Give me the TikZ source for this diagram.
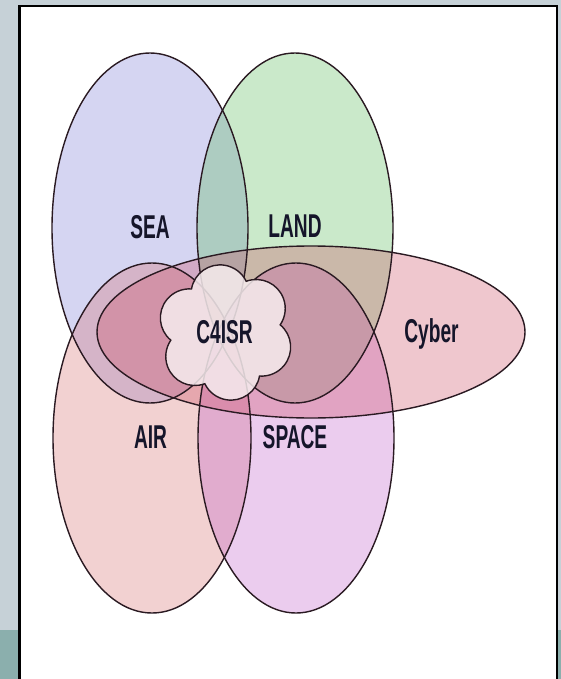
\documentclass[tikz,border=0pt]{standalone}
\usepackage{fontspec}
\newfontfamily\lblfont[FakeStretch=0.58]{Liberation Sans}
\usetikzlibrary{calc}
\definecolor{slatebg}{HTML}{C6D1D7}
\definecolor{tealbg}{HTML}{8BAFAD}
\definecolor{seac}{HTML}{7676D4}
\definecolor{landc}{HTML}{52B952}
\definecolor{airc}{HTML}{D76969}
\definecolor{spacec}{HTML}{BD58C9}
\definecolor{cyberc}{HTML}{CD475F}
\definecolor{cloudc}{HTML}{F6ECEE}
\definecolor{outc}{HTML}{2A1A22}
\definecolor{txtc}{HTML}{15152A}
\tikzset{
  outl/.style={draw=outc, line width=1.4pt},
  tint/.style={fill opacity=0.3},
  cloudsty/.style={fill=cloudc, fill opacity=0.85, draw=outc, line width=1.4pt},
  lbl/.style={font=\lblfont\bfseries\fontsize{33}{33}\selectfont, text=txtc, inner sep=0pt, anchor=base},
}
\begin{document}
\begin{tikzpicture}[x=1pt,y=-1pt]
\useasboundingbox (0,0) rectangle (561,679);
\fill[slatebg] (0,0) rectangle (561,679);
\fill[tealbg] (0,630) rectangle (561,679);
\filldraw[fill=white, draw=black, line width=2.5pt] (19.5,6) rectangle (557,700);
% fills
\fill[seac, tint] (150,228) ellipse[x radius=98pt, y radius=175pt];
\fill[landc, tint] (295,228) ellipse[x radius=98pt, y radius=175pt];
\fill[airc, tint] (152,438) ellipse[x radius=99pt, y radius=175pt];
\fill[spacec, tint] (296,438) ellipse[x radius=98pt, y radius=175pt];
\fill[cyberc, tint] (311,332) ellipse[x radius=214pt, y radius=86pt];
% outlines
\draw[outl] (150,228) ellipse[x radius=98pt, y radius=175pt];
\draw[outl] (295,228) ellipse[x radius=98pt, y radius=175pt];
\draw[outl] (152,438) ellipse[x radius=99pt, y radius=175pt];
\draw[outl] (296,438) ellipse[x radius=98pt, y radius=175pt];
\draw[outl] (311,332) ellipse[x radius=214pt, y radius=86pt];
% cloud: six puffs (radius 29) on a ring of radius 39
\coordinate (cc) at (225.5,332.5);
\path[cloudsty] ($(cc)+(352:55.24)$)
  arc[start angle=-50.25, end angle=94.25, radius=29]
  arc[start angle=9.75, end angle=154.25, radius=29]
  arc[start angle=69.75, end angle=214.25, radius=29]
  arc[start angle=129.75, end angle=274.25, radius=29]
  arc[start angle=189.75, end angle=334.25, radius=29]
  arc[start angle=249.75, end angle=394.25, radius=29]
  -- cycle;
% labels
\node[lbl] (sea) at (150,238) {SEA};
\node[lbl] (land) at (295,237) {LAND};
\node[lbl] (c4isr) at (224.5,343) {C4ISR};
\node[lbl] (cyber) at (431.5,342) {Cyber};
\node[lbl] (air) at (150.5,448) {AIR};
\node[lbl] (space) at (295,448) {SPACE};
\end{tikzpicture}
\end{document}
